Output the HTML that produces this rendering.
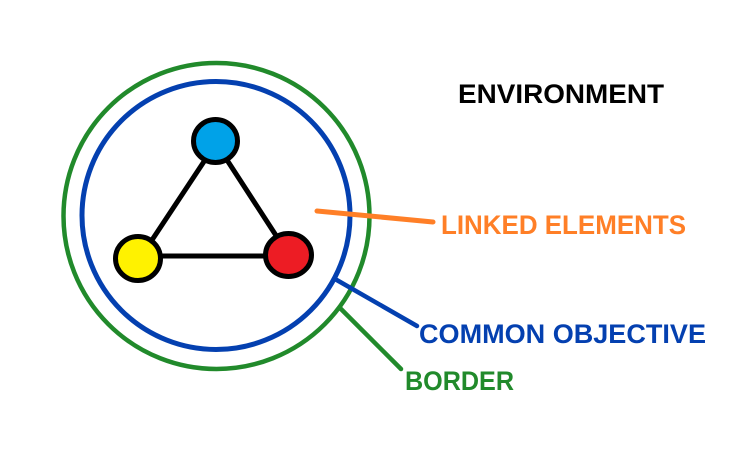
<!DOCTYPE html>
<html>
<head>
<meta charset="utf-8">
<style>
html,body{margin:0;padding:0;background:#fff;width:730px;height:455px;overflow:hidden}
svg{display:block}
text{font-family:"Liberation Sans",sans-serif;font-weight:bold;font-size:27px}
</style>
</head>
<body>
<svg width="730" height="455" viewBox="0 0 730 455" xmlns="http://www.w3.org/2000/svg">
<rect width="730" height="455" fill="#fff"/>
<circle cx="216.5" cy="216" r="153" fill="none" stroke="#218a2b" stroke-width="4.5"/>
<circle cx="216" cy="215.5" r="134" fill="none" stroke="#0440b0" stroke-width="5"/>
<g stroke="#000" stroke-width="5" fill="none">
<line x1="205" y1="160" x2="152" y2="240"/>
<line x1="227" y1="160" x2="277" y2="237"/>
<line x1="160" y1="256" x2="265" y2="256"/>
</g>
<ellipse cx="215.5" cy="141" rx="22" ry="21.5" fill="#00a2e8" stroke="#000" stroke-width="5"/>
<ellipse cx="138" cy="258.5" rx="22.5" ry="22" fill="#fff200" stroke="#000" stroke-width="5"/>
<ellipse cx="288.5" cy="255" rx="23" ry="21.5" fill="#ed1c24" stroke="#000" stroke-width="5"/>
<line x1="317" y1="211" x2="433" y2="222" stroke="#ff7f27" stroke-width="5" stroke-linecap="round"/>
<line x1="335" y1="279" x2="417" y2="326" stroke="#0440b0" stroke-width="4.5" stroke-linecap="round"/>
<line x1="340" y1="308" x2="401" y2="369" stroke="#218a2b" stroke-width="4.5" stroke-linecap="round"/>
<text x="458" y="103" fill="#000" textLength="206" lengthAdjust="spacingAndGlyphs">ENVIRONMENT</text>
<text x="441" y="234" fill="#ff7f27" textLength="245" lengthAdjust="spacingAndGlyphs">LINKED ELEMENTS</text>
<text x="419" y="343" fill="#0440b0" textLength="287" lengthAdjust="spacingAndGlyphs">COMMON OBJECTIVE</text>
<text x="405" y="390" fill="#218a2b" textLength="109" lengthAdjust="spacingAndGlyphs">BORDER</text>
</svg>
</body>
</html>
